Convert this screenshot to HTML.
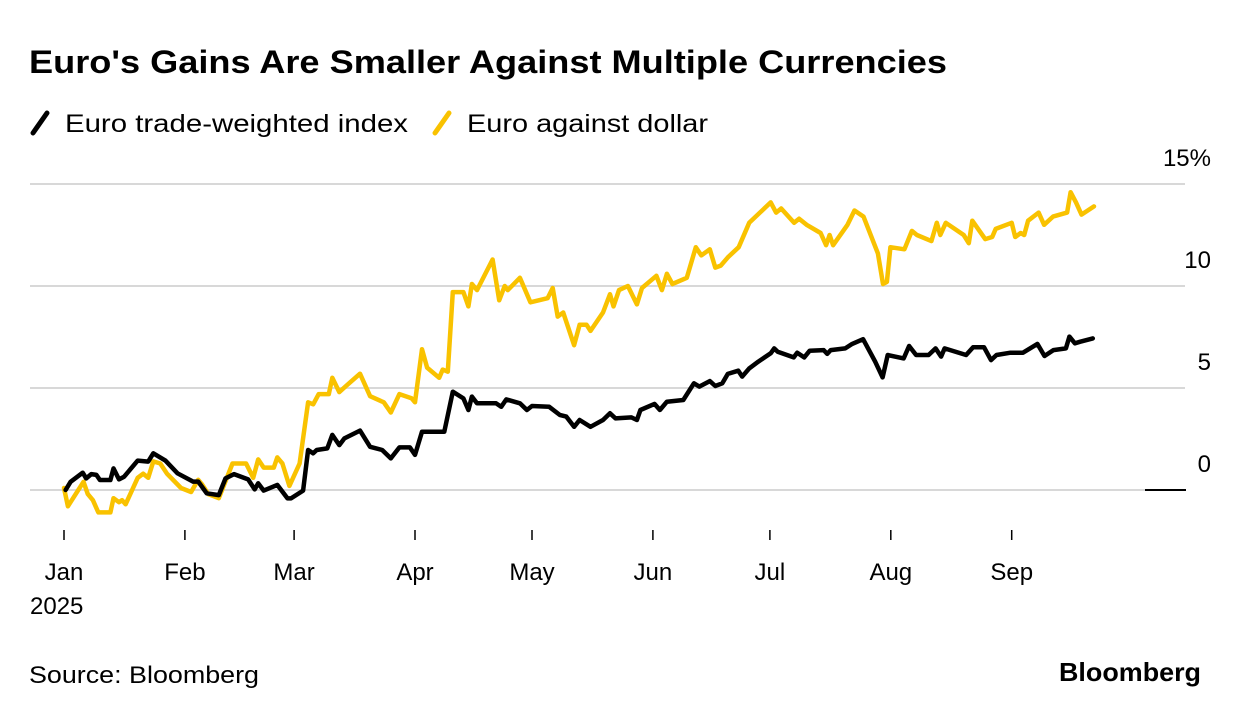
<!DOCTYPE html>
<html><head><meta charset="utf-8"><style>
html,body{margin:0;padding:0;background:#fff;}
svg{display:block;font-family:"Liberation Sans",Arial,sans-serif;}
</style></head><body>
<svg id="chart" width="1240" height="716" viewBox="0 0 1240 716" xmlns="http://www.w3.org/2000/svg">
<text x="29" y="73" font-size="32" font-weight="bold" textLength="918" lengthAdjust="spacingAndGlyphs" fill="#000">Euro's Gains Are Smaller Against Multiple Currencies</text>
<g>
<g>
<line x1="33" y1="133" x2="47" y2="113" stroke="#000" stroke-width="5" stroke-linecap="round"/>
<text x="65" y="132" font-size="25" textLength="343" lengthAdjust="spacingAndGlyphs">Euro trade-weighted index</text>
</g>
<g>
<line x1="435" y1="133" x2="449" y2="113" stroke="#f9c200" stroke-width="5" stroke-linecap="round"/>
<text x="467" y="132" font-size="25" textLength="241" lengthAdjust="spacingAndGlyphs">Euro against dollar</text>
</g>
</g>
<g id="grid"></g>
<g id="yaxis"></g>
<g id="xaxis"></g>
<g id="series"></g>
<text x="29" y="683" font-size="24" textLength="230" lengthAdjust="spacingAndGlyphs">Source: Bloomberg</text>
<text x="1201" y="681" font-size="26" font-weight="bold" text-anchor="end" textLength="142" lengthAdjust="spacingAndGlyphs">Bloomberg</text>
</svg>
<script>
const yTicks = [0, 5, 10, 15];
const yTickLabels = ["0", "5", "10", "15%"];
const monthLabels = ["Jan", "Feb", "Mar", "Apr", "May", "Jun", "Jul", "Aug", "Sep"];
const monthDays = [0, 31, 59, 90, 120, 151, 181, 212, 243];
const usdDays = [0,1,5,6.1,7.4,8.8,11.9,12.7,14.1,14.9,15.8,18.9,20.3,21.6,22.9,24.7,26.4,30,32.6,34.4,35.3,37,39.7,43.2,46.7,48.5,49.8,51.2,53.8,54.7,56,57.8,60.4,62.6,63.9,65.3,67.9,68.8,70.6,72.3,75.9,78.5,82,83.8,86,89.1,90,91.8,93.1,96.2,97.1,98.4,99.7,102.4,103.7,104.6,105.9,109.9,111.6,113,113.8,116.9,119.6,124,125.3,126.6,128,130.8,132.2,134,135,138.2,140,140.9,142.3,144.6,146.9,148.2,151.9,153.3,154.6,156,159.7,162,163.4,165.6,167,168.4,170.2,173,175.7,181.2,182.6,183.9,187.2,188.5,190.4,194,195.4,196.3,197.2,200.9,202.7,205,208.7,210,211,211.9,215.5,217.4,218.7,222.4,223.8,224.7,226.1,230.7,232,232.9,236.2,238,238.9,243,243.9,245.3,246.2,247.2,249.9,251.3,253.6,257.2,258.1,259.5,260.9,264.1];
const usdValues = [0.1,-0.8,0.4,-0.2,-0.5,-1.1,-1.1,-0.4,-0.6,-0.5,-0.7,0.6,0.8,0.6,1.4,1.3,0.8,0.1,-0.1,0.5,0.3,-0.2,-0.4,1.3,1.3,0.6,1.5,1.1,1.1,1.6,1.3,0.2,1.3,4.3,4.2,4.7,4.7,5.5,4.8,5.1,5.7,4.6,4.3,3.8,4.7,4.5,4.3,6.9,6.0,5.5,5.9,5.8,9.7,9.7,9.0,10.1,9.8,11.3,9.3,10.0,9.8,10.4,9.2,9.4,9.9,8.5,8.7,7.1,8.1,8.1,7.8,8.7,9.6,9.0,9.8,10.0,9.1,9.9,10.5,9.8,10.6,10.1,10.4,11.9,11.5,11.8,10.9,11.0,11.4,11.9,13.1,14.1,13.6,13.8,13.1,13.3,13.0,12.6,12.0,12.5,12.0,13.0,13.7,13.4,11.6,10.1,10.2,11.9,11.8,12.7,12.5,12.2,13.1,12.5,13.1,12.5,12.1,13.2,12.3,12.4,12.8,13.1,12.4,12.6,12.5,13.2,13.6,13.0,13.4,13.6,14.6,14.1,13.5,13.9];
const twiDays = [0.4,1.7,4.8,5.7,7,8.3,9.2,11.9,12.7,14.1,15.4,18.9,21.6,22.9,26,29.1,33.1,34.4,36.6,39.7,41.4,43.6,47.2,48.9,49.8,51.2,54.7,57.3,58.2,61.3,62.6,63.9,64.8,67.5,68.8,70.6,71.9,75.9,78.5,81.6,83.8,86,88.7,90,91.8,97.5,99.7,102.4,103.7,104.6,105.9,110.8,112.1,113.4,116.9,118.7,120,124.4,127.1,128.8,130.8,132.2,135,138.2,140,141.4,145.5,146.9,147.8,151.4,152.8,154.6,158.8,161.5,162.9,165.6,167,168.8,170.2,172.9,173.9,175.7,178,181.2,182.1,183,187.1,188,189.8,191.2,194.8,195.7,196.6,200.3,202.1,204.9,208,209.9,211.2,215.3,216.7,218.5,221.7,223.5,224.9,225.8,231.3,233.1,235.9,237.7,239.1,242.7,245.9,249.6,251.4,253.7,256.9,257.8,259.2,260.6,263.8];
const twiValues = [0,0.4,0.85,0.57,0.78,0.74,0.49,0.49,1.06,0.52,0.65,1.44,1.39,1.8,1.44,0.82,0.41,0.41,-0.16,-0.25,0.57,0.78,0.52,0.03,0.33,-0.03,0.25,-0.41,-0.41,-0.03,1.96,1.8,1.96,2.04,2.7,2.2,2.53,2.91,2.12,1.96,1.55,2.09,2.09,1.72,2.86,2.86,4.82,4.49,3.92,4.58,4.25,4.25,4.08,4.44,4.25,3.92,4.12,4.08,3.68,3.6,3.1,3.43,3.1,3.43,3.76,3.51,3.56,3.43,3.92,4.22,3.92,4.33,4.41,5.23,5.07,5.34,5.1,5.23,5.69,5.85,5.56,5.96,6.29,6.7,6.94,6.78,6.5,6.73,6.5,6.83,6.86,6.67,6.86,6.94,7.16,7.39,6.29,5.52,6.62,6.45,7.06,6.62,6.62,6.94,6.54,6.94,6.62,7.0,7.0,6.37,6.62,6.73,6.73,7.16,6.57,6.86,6.94,7.52,7.19,7.27,7.43];

const NS = "http://www.w3.org/2000/svg";
function xScale(d){ return 64 + d * 3.9; }
function yScale(v){ return 490 - v * 20.4; }
function mk(tag, attrs, parent){ const e = document.createElementNS(NS, tag); for (const k in attrs) e.setAttribute(k, attrs[k]); parent.appendChild(e); return e; }

const grid = document.getElementById('grid');
const yaxis = document.getElementById('yaxis');
yTicks.forEach((t, i) => {
  const l = mk('line', {x1: 30, x2: 1185, y1: yScale(t), y2: yScale(t), stroke: '#d8d8d8', 'stroke-width': 2}, grid);
  
  
  const tx = mk('text', {x: 1211, y: yScale(t) - 18, 'font-size': 24, 'text-anchor': 'end'}, yaxis);
  tx.textContent = yTickLabels[i];
  
  
});
const zl = mk('line', {x1: 1145, x2: 1186, y1: yScale(0), y2: yScale(0), stroke: '#000', 'stroke-width': 2}, yaxis);



const xaxis = document.getElementById('xaxis');
monthLabels.forEach((m, i) => {
  const tk = mk('line', {x1: xScale(monthDays[i]), x2: xScale(monthDays[i]), y1: 530, y2: 540, stroke: '#000', 'stroke-width': 1.5}, xaxis);
  
  
  const tx = mk('text', {x: xScale(monthDays[i]), y: 580, 'font-size': 24, 'text-anchor': 'middle'}, xaxis);
  tx.textContent = m;
  
  
});
const yr = mk('text', {x: 30, y: 614, 'font-size': 24}, xaxis);
yr.textContent = "2025";



const series = document.getElementById('series');
function drawLine(days, vals, color, name){
  const d = days.map((x, i) => (i ? 'L' : 'M') + xScale(x).toFixed(1) + ' ' + yScale(vals[i]).toFixed(1)).join(' ');
  const p = mk('path', {d: d, fill: 'none', stroke: color, 'stroke-width': 4.5, 'stroke-linejoin': 'round', 'stroke-linecap': 'round'}, series);
  
  
}
drawLine(usdDays, usdValues, '#f9c200', 'line-euro-against-dollar');
drawLine(twiDays, twiValues, '#000000', 'line-euro-trade-weighted');
</script>
</body></html>
